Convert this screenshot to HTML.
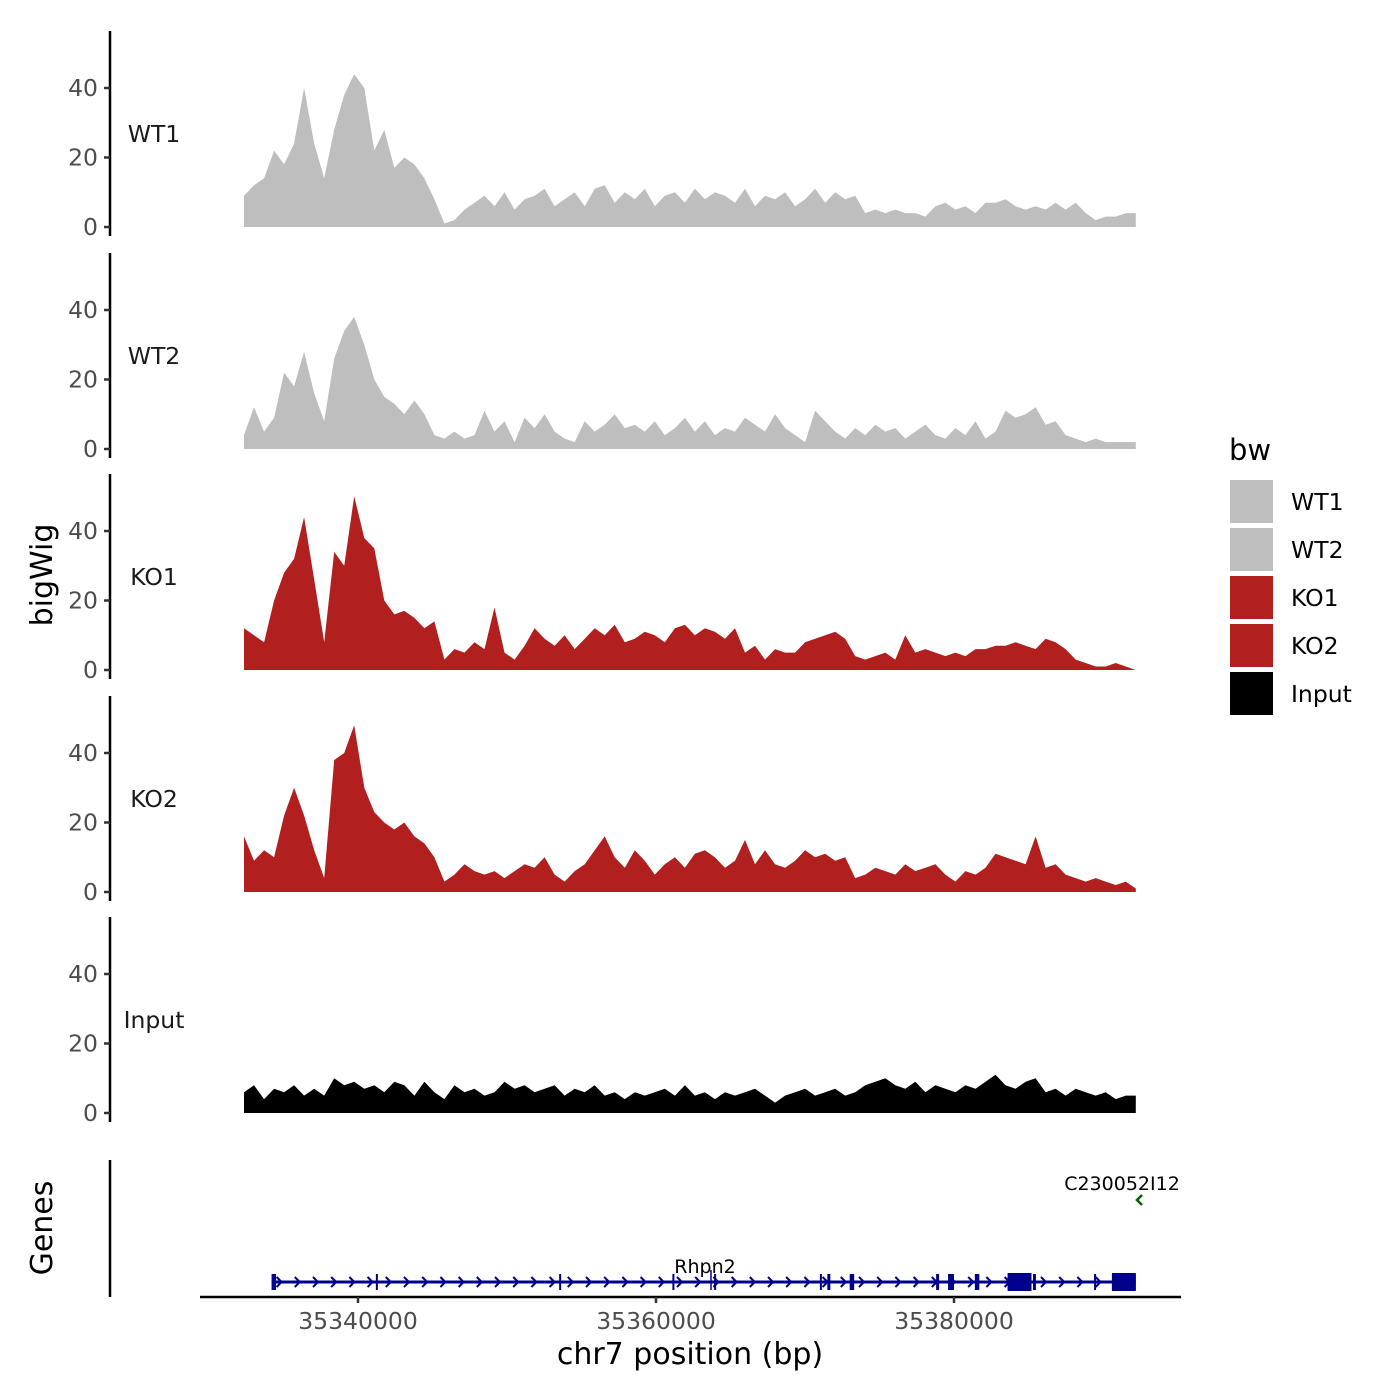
<!DOCTYPE html>
<html><head><meta charset="utf-8"><style>
html,body{margin:0;padding:0;background:#fff;}
svg{display:block;font-family:"DejaVu Sans","Liberation Sans",sans-serif;}
</style></head><body>
<svg id="chart" width="1400" height="1400" viewBox="0 0 1400 1400" xmlns="http://www.w3.org/2000/svg"></svg>
<script>
const trackNames = ["WT1","WT2","KO1","KO2","Input"];
const trackColors = ["#bebebe","#bebebe","#b21f1f","#b21f1f","#000000"];
const yTicks = [0,20,40];
const xTicks = [35340000,35360000,35380000];
const startBp = 35332350;
const endBp = 35392200;
const wt1Values = [9,12,14,22,18,24,40,24,14,28,38,44,40,22,28,17,20,18,14,8,1,2,5,7,9,6,10,5,8,9,11,6,8,10,6,11,12,7,10,8,11,6,9,10,7,11,8,10,9,7,11,6,9,8,10,6,8,11,7,10,8,9,4,5,4,5,4,4,3,6,7,5,6,4,7,7,8,6,5,6,5,7,5,7,4,2,3,3,4,4];
const wt2Values = [4,12,5,9,22,18,28,16,8,26,34,38,30,20,15,13,10,14,10,4,3,5,3,4,11,5,8,2,9,6,10,5,3,2,8,5,7,10,6,7,5,8,4,6,9,5,8,4,6,5,9,7,5,10,6,4,2,11,8,5,3,6,4,7,5,6,3,5,7,4,3,6,4,8,3,5,11,9,10,12,7,8,4,3,2,3,2,2,2,2];
const ko1Values = [12,10,8,20,28,32,44,26,8,34,30,50,38,35,20,16,17,15,12,14,3,6,5,8,6,18,5,3,7,12,9,7,10,6,9,12,10,13,8,9,11,10,8,12,13,10,12,11,9,12,5,7,3,6,5,5,8,9,10,11,9,4,3,4,5,3,10,5,6,5,4,5,4,6,6,7,7,8,7,6,9,8,6,3,2,1,1,2,1,0];
const ko2Values = [16,9,12,10,22,30,22,12,4,38,40,48,30,23,20,18,20,16,14,10,3,5,8,6,5,6,4,6,8,7,10,5,3,6,8,12,16,10,7,12,9,5,8,10,7,11,12,10,7,9,15,8,12,8,7,9,12,10,11,9,10,4,5,7,6,5,8,6,7,8,5,3,6,5,7,11,10,9,8,16,7,8,5,4,3,4,3,2,3,1];
const inputValues = [6,8,4,7,6,8,5,7,5,10,8,9,7,8,6,9,8,5,9,6,4,8,6,7,5,6,9,7,8,6,7,8,5,7,6,8,5,6,4,6,5,6,7,5,8,5,6,4,6,5,6,7,5,3,5,6,7,5,6,7,5,6,8,9,10,8,7,9,6,8,7,6,8,7,9,11,8,7,9,10,6,7,5,7,6,5,6,4,5,5];
const seriesValues = [wt1Values,wt2Values,ko1Values,ko2Values,inputValues];
// gene features (bp)
const geneStart = 35334200, geneEnd = 35392200;
const exonStarts = [35334200,35341200,35353500,35361100,35363900,35371000,35371500,35373000,35378800,35379600,35381400,35383600,35385300,35389400,35390600];
const exonEnds   = [35334500,35341300,35353600,35361200,35364000,35371100,35371700,35373300,35379000,35380000,35381700,35385200,35385500,35389500,35392200];
const thickStarts = [35383600,35390600];
const thickEnds = [35385200,35392200];

const NS="http://www.w3.org/2000/svg";
const svg=document.getElementById('chart');
function mk(tag,attrs,parent){const e=document.createElementNS(NS,tag);for(const k in attrs)e.setAttribute(k,attrs[k]);(parent||svg).appendChild(e);return e;}
function xScale(bp){return 358+(bp-35340000)*(298/20000);}
const zeros=[227,449,670,892,1113];
const pxPerUnit=139/40;

trackNames.forEach((name,t)=>{
  const g=mk('g',{});
  
  
  const z=zeros[t];
  const yS=v=>z-v*pxPerUnit;
  const vals=seriesValues[t];
  const n=vals.length;
  const bin=(endBp-startBp)/(n-1);
  let d='M'+xScale(startBp)+','+z;
  vals.forEach((v,i)=>{d+=' L'+xScale(startBp+i*bin).toFixed(1)+','+yS(v).toFixed(1);});
  d+=' L'+xScale(endBp)+','+z+' Z';
  const area=mk('path',{d:d,fill:trackColors[t]},g);
  
  
  const ax=mk('line',{x1:110,x2:110,y1:z-196,y2:z+9,stroke:'#000','stroke-width':2.5},g);
  
  
  yTicks.forEach(tv=>{
    mk('line',{x1:104,x2:110,y1:yS(tv),y2:yS(tv),stroke:'#333','stroke-width':2.5},g);
    const tl=mk('text',{x:98,y:yS(tv)+8,'text-anchor':'end','font-size':23.5,fill:'#4d4d4d'},g);
    tl.textContent=tv;
    
    
  });
  const lbl=mk('text',{x:154,y:z-85,'text-anchor':'middle','font-size':23.5,fill:'#1a1a1a'},g);
  lbl.textContent=name;
  
  
});

// y title
const yt=mk('text',{x:0,y:0,'text-anchor':'middle','font-size':30,transform:'translate(52,575) rotate(-90)'});
yt.textContent='bigWig';



// gene track
const gg=mk('g',{});


mk('line',{x1:110,x2:110,y1:1160,y2:1297,stroke:'#000','stroke-width':2.5},gg);
const gt=mk('text',{x:0,y:0,'text-anchor':'middle','font-size':30,transform:'translate(52,1228) rotate(-90)'},gg);
gt.textContent='Genes';


const gy=1282;
mk('line',{x1:xScale(geneStart),x2:xScale(geneEnd),y1:gy,y2:gy,stroke:'#00008b','stroke-width':3},gg);
for(let x=xScale(geneStart)+8;x<xScale(geneEnd)-6;x+=18.2){
  mk('path',{d:`M${x-3},${gy-5} L${x+2},${gy} L${x-3},${gy+5}`,stroke:'#00008b','stroke-width':2,fill:'none'},gg);
}
exonStarts.forEach((s,i)=>{
  const x1=xScale(s),x2=xScale(exonEnds[i]);
  mk('rect',{x:x1,y:gy-8,width:Math.max(2,x2-x1),height:16,fill:'#00008b'},gg);
});
thickStarts.forEach((s,i)=>{
  const x1=xScale(s),x2=xScale(thickEnds[i]);
  const r=mk('rect',{x:x1,y:gy-9,width:x2-x1,height:18,fill:'#00008b'},gg);
  
  
});
mk('line',{x1:711,x2:711,y1:gy-12,y2:gy+8,stroke:'#00008b','stroke-width':1.5},gg);
const rh=mk('text',{x:705,y:1273,'text-anchor':'middle','font-size':19,fill:'#000'},gg);
rh.textContent='Rhpn2';


const cl=mk('text',{x:1122,y:1190,'text-anchor':'middle','font-size':19,fill:'#000'},gg);
cl.textContent='C230052I12';


mk('path',{d:'M1142,1195 L1137,1200 L1142,1205',stroke:'#006400','stroke-width':2.5,fill:'none'},gg);

// x axis
const xa=mk('g',{});


mk('line',{x1:200,x2:1181,y1:1297,y2:1297,stroke:'#000','stroke-width':2.5},xa);
xTicks.forEach(tv=>{
  const x=xScale(tv);
  mk('line',{x1:x,x2:x,y1:1297,y2:1303,stroke:'#333','stroke-width':2.5},xa);
  const t=mk('text',{x:x,y:1329,'text-anchor':'middle','font-size':23.5,fill:'#4d4d4d'},xa);
  t.textContent=tv;
  
  
});
const xt=mk('text',{x:690,y:1364,'text-anchor':'middle','font-size':30,fill:'#000'});
xt.textContent='chr7 position (bp)';



// legend
const lg=mk('g',{});


const lt=mk('text',{x:1229,y:460,'font-size':29,fill:'#000'},lg);
lt.textContent='bw';


trackNames.forEach((name,i)=>{
  const y=480+i*48;
  const e=mk('g',{},lg);
  
  
  mk('rect',{x:1230,y:y,width:43,height:43,fill:trackColors[i]},e);
  const tx=mk('text',{x:1291,y:y+30,'font-size':23.5,fill:'#000'},e);
  tx.textContent=name;
});
</script>
</body></html>
